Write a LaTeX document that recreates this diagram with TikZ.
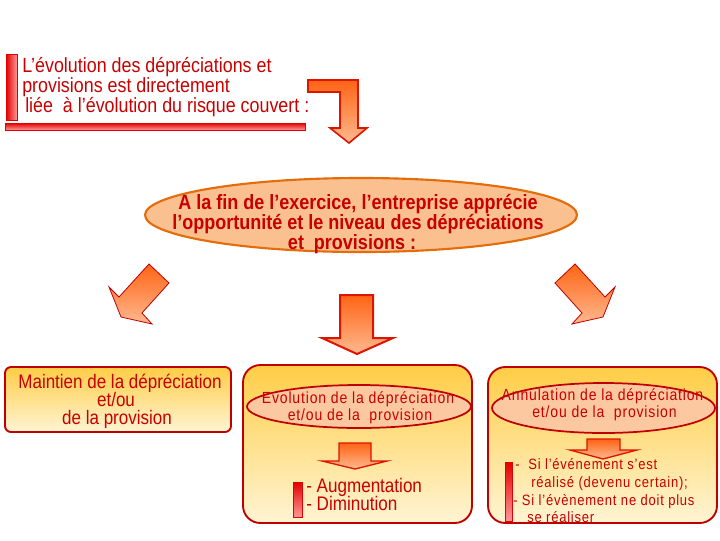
\documentclass[tikz,border=0pt]{standalone}
\usepackage{graphicx}
\usepackage{fontspec}
\setmainfont{Liberation Sans}
\newfontfamily\spacedfont[LetterSpace=6]{Liberation Sans}
\usetikzlibrary{shapes.geometric}
\newcommand{\vst}[1]{\scalebox{1}[1.15]{#1}}
\definecolor{txtred}{RGB}{200,0,0}
\definecolor{bordred}{RGB}{192,0,0}
\definecolor{arrowtop}{RGB}{255,100,20}
\definecolor{arrowbot}{RGB}{255,185,145}
\definecolor{arrowline}{RGB}{220,20,0}
\definecolor{ellfill}{RGB}{250,192,143}
\definecolor{ellline}{RGB}{228,108,10}
\definecolor{boxtop}{RGB}{255,205,70}
\definecolor{boxbot}{RGB}{255,244,212}
\definecolor{subell}{RGB}{251,200,160}
\definecolor{barred}{RGB}{225,0,0}
\definecolor{barpink}{RGB}{255,150,150}
\begin{document}
\begin{tikzpicture}[x=0.75pt,y=-0.75pt,
  line join=miter,
  bigarrow/.style={top color=arrowtop,bottom color=arrowbot,draw=arrowline,line width=1.2pt},
  diagarrow/.style={top color=arrowtop,bottom color=arrowbot,draw=bordred,line width=0.6pt},
  smallarrow/.style={top color=arrowtop,bottom color=arrowbot,draw=arrowline,line width=1pt},
  vbar/.style={left color=barred,right color=barpink,draw=barred,line width=0.6pt},
  hbar/.style={top color=barred,bottom color=barpink,draw=barred,line width=0.6pt},
  tbar/.style={top color=barred,bottom color=barpink,draw=barred,line width=0.6pt},
  box/.style={draw=bordred,line width=1.4pt,top color=boxtop,bottom color=boxbot,inner sep=0pt},
  mainell/.style={ellipse,draw=ellline,line width=1.6pt,fill=ellfill,inner sep=0pt},
  subellipse/.style={ellipse,draw=bordred,line width=1.3pt,fill=subell,inner sep=0pt},
  txt/.style={text=txtred,inner sep=0pt},
  toptxt/.style={txt,anchor=base west,font=\fontsize{13.4}{15}\selectfont},
  elltxt/.style={txt,anchor=base,font=\bfseries\fontsize{13.5}{15}\selectfont},
  boxtxt/.style={txt,anchor=base,font=\fontsize{12.75}{14}\selectfont},
  subtxt/.style={txt,anchor=base,font=\spacedfont\fontsize{10.5}{12}\selectfont},
  listtxt/.style={txt,anchor=base west,font=\fontsize{12.8}{14}\selectfont},
  smalltxt/.style={txt,anchor=base west,font=\spacedfont\fontsize{9.75}{11}\selectfont}
]
\useasboundingbox (0,0) rectangle (720,540);

% top bars and text
\draw[vbar] (6,54) rectangle (17,120);
\draw[hbar] (5,123) rectangle (305,130);
\node[toptxt] (t1) at (22,72) {\vst{L’évolution des dépréciations et}};
\node[toptxt] (t2) at (22,92) {\vst{provisions est directement}};
\node[toptxt] (t3) at (25,112) {\vst{liée\ \ à l’évolution du risque couvert\ :}};

% bent arrow
\draw[bigarrow] (308,80) -- (358,80) -- (358,128) -- (367,128) -- (349,143) -- (330,128) -- (340,128) -- (340,92) -- (308,92) -- cycle;

% main ellipse
\node[mainell,minimum width=324pt,minimum height=55.5pt] (main) at (361,215) {};
\node[elltxt] (m1) at (358,209) {\vst{A la fin de l’exercice, l’entreprise apprécie}};
\node[elltxt] (m2) at (358,229) {\vst{l’opportunité et le niveau des dépréciations}};
\node[elltxt] (m3) at (352,249) {\vst{et\ \ provisions :}};

% three arrows
\draw[diagarrow] (149,264) -- (169,283) -- (142,313) -- (152,324) -- (121,317) -- (109,287) -- (119,297) -- cycle;
\draw[bigarrow,line width=1.5pt] (340,295) -- (373,295) -- (373,338) -- (393,338) -- (357,354) -- (322,338) -- (340,338) -- cycle;
\draw[diagarrow] (575,264) -- (555,283) -- (582,313) -- (572,324) -- (603,317) -- (615,287) -- (605,297) -- cycle;

% left box
\node[box,rounded corners=4.5pt,minimum width=169.5pt,minimum height=48.75pt] (b1) at (118,399.5) {};
\node[boxtxt] (l1) at (120,388) {\vst{Maintien de la dépréciation}};
\node[boxtxt] (l2) at (116,406) {\vst{et/ou}};
\node[boxtxt] (l3) at (117,424) {\vst{de la provision}};

% middle box
\node[box,rounded corners=13pt,minimum width=171.75pt,minimum height=118.5pt] (b2) at (357.5,444) {};
\node[subellipse,minimum width=168pt,minimum height=32.25pt] (e2) at (359,406.5) {};
\node[subtxt] (c1) at (358,403) {\vst{Evolution de la dépréciation}};
\node[subtxt] (c2) at (360,420) {\vst{et/ou de la\ \ provision}};
\draw[smallarrow] (339,443) -- (371,443) -- (371,461) -- (387,461) -- (355,469) -- (322,461) -- (339,461) -- cycle;
\draw[tbar] (293,482) rectangle (302,517);
\node[listtxt] (a1) at (306,492) {\vst{- Augmentation}};
\node[listtxt] (a2) at (306,510) {\vst{- Diminution}};

% right box
\node[box,rounded corners=13pt,minimum width=171.75pt,minimum height=117pt] (b3) at (602.5,445) {};
\node[subellipse,minimum width=167.25pt,minimum height=37.5pt] (e3) at (603.5,408) {};
\node[subtxt] (r1) at (602.5,400) {\vst{Annulation de la dépréciation}};
\node[subtxt] (r2) at (604.5,417) {\vst{et/ou de la\ \ provision}};
\draw[smallarrow] (587,439) -- (620,439) -- (620,450) -- (637,450) -- (603,459) -- (570,450) -- (587,450) -- cycle;
\draw[tbar] (505,462) rectangle (512,521);
\node[smalltxt] (s1) at (515,469) {\vst{-\ \ Si l’événement s’est}};
\node[smalltxt] (s2) at (531,487) {\vst{réalisé (devenu certain);}};
\node[smalltxt] (s3) at (513,505) {\vst{- Si l’évènement ne doit plus}};
\node[smalltxt] (s4) at (527,522) {\vst{se réaliser}};
\end{tikzpicture}
\end{document}
